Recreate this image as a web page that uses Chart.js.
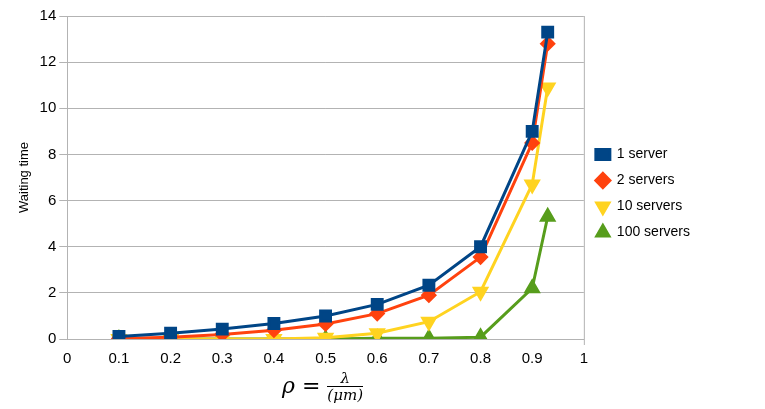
<!DOCTYPE html>
<html>
<head>
<meta charset="utf-8">
<script src="https://cdn.jsdelivr.net/npm/chart.js@4/dist/chart.umd.min.js"></script>
<style>
  body { margin: 0; background: #fff; }
  #wrap { position: relative; width: 765px; height: 409px; }
  #xtitle { position: absolute; left: 282px; top: 370px; font-family: "DejaVu Serif", serif; font-style: italic; font-size: 22px; }
  #xtitle .frac { display: inline-block; vertical-align: middle; text-align: center; font-size: 15px; }
  #xtitle .frac span { display: block; line-height: 16px; }
  #xtitle .frac .num { border-bottom: 1px solid #000; }
</style>
</head>
<body>
<div id="wrap">
  <canvas id="c" width="765" height="409"></canvas>
  <div id="xtitle">ρ = <span class="frac"><span class="num">λ</span><span>(μm)</span></span></div>
</div>
<script>
const rho = [0.1, 0.2, 0.3, 0.4, 0.5, 0.6, 0.7, 0.8, 0.9, 0.93];
const oneServer = [0.11, 0.25, 0.43, 0.67, 1.0, 1.5, 2.33, 4.0, 9.0, 13.3];
const twoServers = [0.02, 0.08, 0.2, 0.38, 0.65, 1.1, 1.9, 3.55, 8.5, 12.8];
const tenServers = [0, 0, 0, 0, 0.05, 0.25, 0.75, 2.05, 6.7, 10.9];
const hundredServers = [0, 0, 0, 0, 0, 0.03, 0.03, 0.08, 2.2, 5.3];

const pts = arr => arr.map((v, i) => ({ x: rho[i], y: v }));
const mk = (label, data, color, style, rot) => ({
  label, data: pts(data), borderColor: color, backgroundColor: color,
  borderWidth: 3, pointStyle: style, pointRotation: rot || 0,
  pointRadius: style === 'rectRot' ? 6 : 7, pointHoverRadius: 7, tension: 0
});

// frame line on the right edge of the plot area
const frame = {
  id: 'frame',
  afterDraw(chart) {
    const { ctx, chartArea: a } = chart;
    ctx.save();
    ctx.strokeStyle = '#b3b3b3';
    ctx.lineWidth = 1;
    ctx.beginPath();
    ctx.moveTo(a.right + 0.5, a.top);
    ctx.lineTo(a.right + 0.5, a.bottom + 6);
    ctx.stroke();
    ctx.restore();
  }
};

new Chart(document.getElementById('c'), {
  type: 'line',
  data: {
    datasets: [
      mk('1 server', oneServer, '#004586', 'rect'),
      mk('2 servers', twoServers, '#ff420e', 'rectRot'),
      mk('10 servers', tenServers, '#ffd320', 'triangle', 180),
      mk('100 servers', hundredServers, '#579d1c', 'triangle')
    ]
  },
  options: {
    responsive: false,
    animation: false,
    layout: { padding: { top: 16, right: 0, bottom: 38, left: 13 } },
    scales: {
      x: {
        type: 'linear', min: 0, max: 1,
        ticks: { stepSize: 0.1, color: '#000', font: { size: 15, family: 'Liberation Sans' },
          callback: v => (Math.round(v * 10) / 10).toString() },
        grid: { display: false },
        border: { color: '#b3b3b3' }
      },
      y: {
        min: 0, max: 14,
        ticks: { stepSize: 2, color: '#000', font: { size: 15, family: 'Liberation Sans' } },
        grid: { color: '#b3b3b3' },
        border: { color: '#b3b3b3' },
        title: { display: true, text: 'Waiting time', color: '#000', font: { size: 13, family: 'Liberation Sans' } }
      }
    },
    plugins: {
      legend: {
        position: 'right',
        labels: { usePointStyle: true, boxHeight: 10, pointStyleWidth: 14, padding: 12, color: '#000',
          font: { size: 14, family: 'Liberation Sans' } }
      },
      tooltip: { enabled: false }
    }
  },
  plugins: [frame, {
    id: 'legendGap',
    beforeInit(chart) {
      const fit = chart.legend.fit;
      chart.legend.fit = function () { fit.bind(chart.legend)(); this.width += 65; };
    }
  }]
});
</script>
</body>
</html>
